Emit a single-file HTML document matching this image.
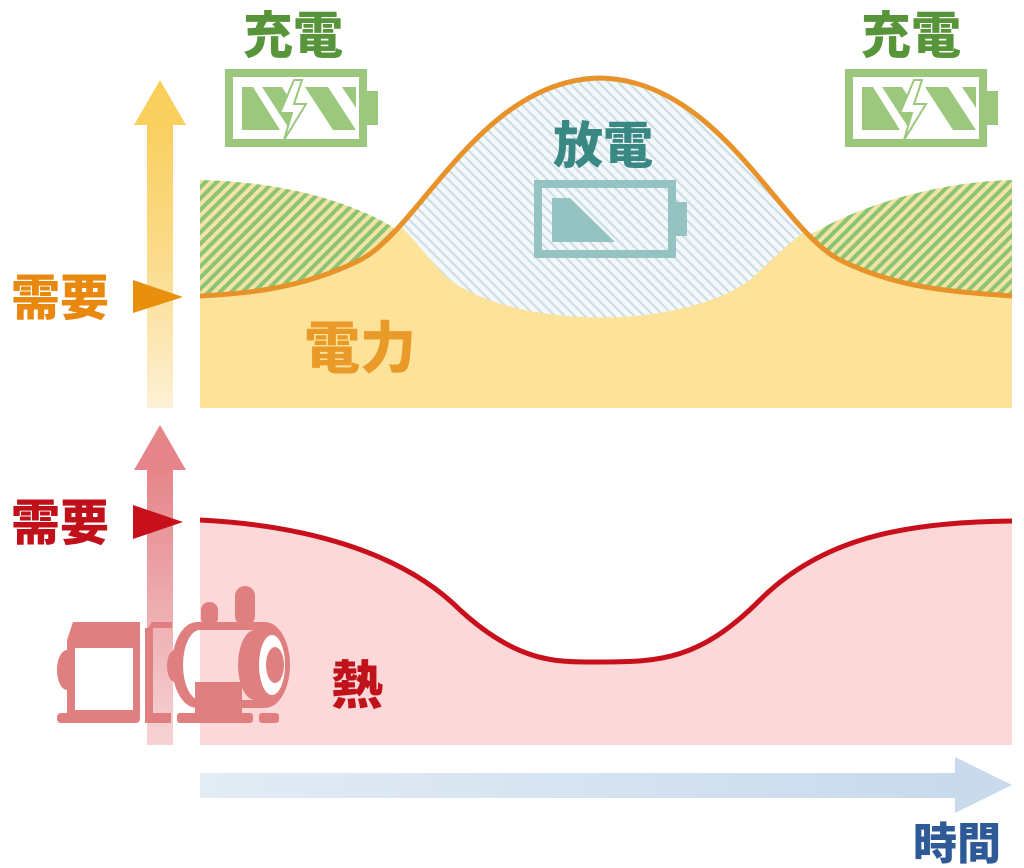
<!DOCTYPE html>
<html><head><meta charset="utf-8"><style>
html,body{margin:0;padding:0;background:#fff;}
svg{display:block;}
text{font-family:"Liberation Sans","Noto Sans CJK JP",sans-serif;font-weight:900;}
</style></head><body>
<svg width="1024" height="868" viewBox="0 0 1024 868" xmlns="http://www.w3.org/2000/svg">
<defs>
<pattern id="gh" patternUnits="userSpaceOnUse" width="8" height="8" patternTransform="rotate(45)">
<rect width="8" height="8" fill="#f3e4a4"/><rect width="4" height="8" fill="#8cc476"/></pattern>
<pattern id="bh" patternUnits="userSpaceOnUse" width="7" height="7" patternTransform="rotate(-45)">
<rect width="7" height="7" fill="#f4f8fa"/><rect width="2" height="7" fill="#c9dde4"/></pattern>
<linearGradient id="ya" x1="0" y1="0" x2="0" y2="1"><stop offset="0" stop-color="#f9cf5e"/><stop offset="0.5" stop-color="#fbdc8e"/><stop offset="1" stop-color="#fdf1d6"/></linearGradient>
<linearGradient id="pa" x1="0" y1="0" x2="0" y2="1"><stop offset="0" stop-color="#e5858a"/><stop offset="1" stop-color="#f6d3d5"/></linearGradient>
<linearGradient id="ta" x1="0" y1="0" x2="1" y2="0"><stop offset="0" stop-color="#e3ecf5"/><stop offset="1" stop-color="#c8daec"/></linearGradient>
<clipPath id="under"><path d="M200,296 C240,294 300,290 360,260 C420,230 480,80 600,78 C720,80 780,230 840,260 C900,290 960,292 1012,296 L1012,408 L200,408 Z"/></clipPath>
</defs>

<path d="M200,180 C300,182 370,210 405,235 C420,245 430,262 450,280 C520,330 680,330 750,280 C770,262 785,245 810,235 C850,210 930,182 1012,180 L1012,296 C960,292 900,290 840,260 C780,230 720,80 600,78 C480,80 420,230 360,260 C300,290 240,294 200,296 Z" fill="url(#gh)"/>
<path d="M200,296 C240,294 300,290 360,260 C420,230 480,80 600,78 C720,80 780,230 840,260 C900,290 960,292 1012,296 L1012,408 L200,408 Z" fill="#fde39a"/>
<path clip-path="url(#under)" d="M395,220 C420,245 430,262 450,280 C520,330 680,330 750,280 C770,262 785,245 820,220 L820,60 L395,60 Z" fill="url(#bh)"/>
<path d="M200,296 C240,294 300,290 360,260 C420,230 480,80 600,78 C720,80 780,230 840,260 C900,290 960,292 1012,296" fill="none" stroke="#e8922a" stroke-width="5"/>

<rect x="147" y="122" width="26" height="286" fill="url(#ya)"/>
<polygon points="160,80 186,125 134,125" fill="#f9cf5e"/>
<polygon points="133,280 183,297 133,313" fill="#e8900e"/>
<text x="11" y="315" font-size="49" fill="#e8880e">需要</text>

<text x="243" y="53" font-size="50" fill="#58953a">充電</text>
<text x="861" y="53" font-size="50" fill="#58953a">充電</text>
<text x="553" y="163" font-size="50" fill="#3a8884">放電</text>
<text x="304" y="368" font-size="56" fill="#e99a28">電力</text>

<g fill="#9cc87e">
<path d="M225,69 h142 v78 h-142 Z M233,77 v62 h126 v-62 Z" fill-rule="evenodd"/>
<rect x="366" y="91" width="12" height="34"/>
<polygon points="242,87 253,87 280,130 242,130"/>
<polygon points="262,87 282,87 297,110 292,130 290,130"/>
<polygon points="305,87 328,87 356,130 333,130"/>
<polygon points="342,87 356,87 356,108"/>
<polygon points="294,80 280,113 292,113 284,140 306,104 294,104 302,80" fill="#fff" stroke="#9cc87e" stroke-width="2"/>
</g>
<g fill="#9cc87e" transform="translate(620,0)">
<path d="M225,69 h142 v78 h-142 Z M233,77 v62 h126 v-62 Z" fill-rule="evenodd"/>
<rect x="366" y="91" width="12" height="34"/>
<polygon points="242,87 253,87 280,130 242,130"/>
<polygon points="262,87 282,87 297,110 292,130 290,130"/>
<polygon points="305,87 328,87 356,130 333,130"/>
<polygon points="342,87 356,87 356,108"/>
<polygon points="294,80 280,113 292,113 284,140 306,104 294,104 302,80" fill="#fff" stroke="#9cc87e" stroke-width="2"/>
</g>
<g fill="#95c3c1">
<path d="M534,180 h142 v78 h-142 Z M542,188 v62 h126 v-62 Z" fill-rule="evenodd"/>
<rect x="675" y="202" width="12" height="34"/>
<polygon points="552,198 570,198 615,242 552,242"/>
</g>

<path d="M200,520 C300,525 400,550 460,610 C520,665 560,662 600,662 C660,662 700,660 760,600 C820,540 900,522 1012,521 L1012,745 L200,745 Z" fill="#fcd8d8"/>
<path d="M200,520 C300,525 400,550 460,610 C520,665 560,662 600,662 C660,662 700,660 760,600 C820,540 900,522 1012,521" fill="none" stroke="#c8101c" stroke-width="5"/>

<rect x="147" y="468" width="26" height="277" fill="url(#pa)"/>
<polygon points="160,425 186,470 134,470" fill="#e5858a"/>
<polygon points="133,505 183,522 133,539" fill="#c8101c"/>
<text x="11" y="540" font-size="49" fill="#c0101a">需要</text>
<text x="331" y="704" font-size="52" fill="#c0121a">熱</text>

<g fill="#e07f80">
<path d="M67,650 a10,20 0 0 0 0,40 Z"/>
<path d="M67,640 L73,622 H140 V640 Z"/>
<path d="M67,640 h73 v75 h-73 Z M75,648 v62 h58 v-62 Z" fill-rule="evenodd"/>
<rect x="57" y="713" width="83" height="10" rx="4"/>
<path d="M148,628 L152,622 H172 L172,628 Z"/>
<rect x="145" y="628" width="8" height="95"/>
<rect x="145" y="713" width="26" height="10"/>
<path d="M175,650 a8,16 0 0 0 0,32 Z"/>
<path d="M197,622 H265 A25,43 0 0 1 265,708 H197 A25,43 0 0 1 197,622 Z M200,630 A17,35 0 0 0 200,700 H255 A17,35 0 0 1 255,630 Z" fill-rule="evenodd"/>
<ellipse cx="272" cy="665" rx="13" ry="30" fill="#fff"/>
<ellipse cx="275" cy="665" rx="9" ry="18"/>
<rect x="201" y="602" width="17" height="24" rx="8"/>
<rect x="235" y="586" width="20" height="40" rx="10"/>
<rect x="195" y="682" width="47" height="34"/>
<rect x="177" y="713" width="76" height="10" rx="3"/>
<rect x="259" y="713" width="20" height="10" rx="3"/>
</g>

<rect x="200" y="773" width="762" height="25" fill="url(#ta)"/>
<polygon points="955,757 1012,785 955,813" fill="#c8daec"/>
<text x="913" y="859" font-size="44" fill="#2f5a98">時間</text>
</svg>
</body></html>
